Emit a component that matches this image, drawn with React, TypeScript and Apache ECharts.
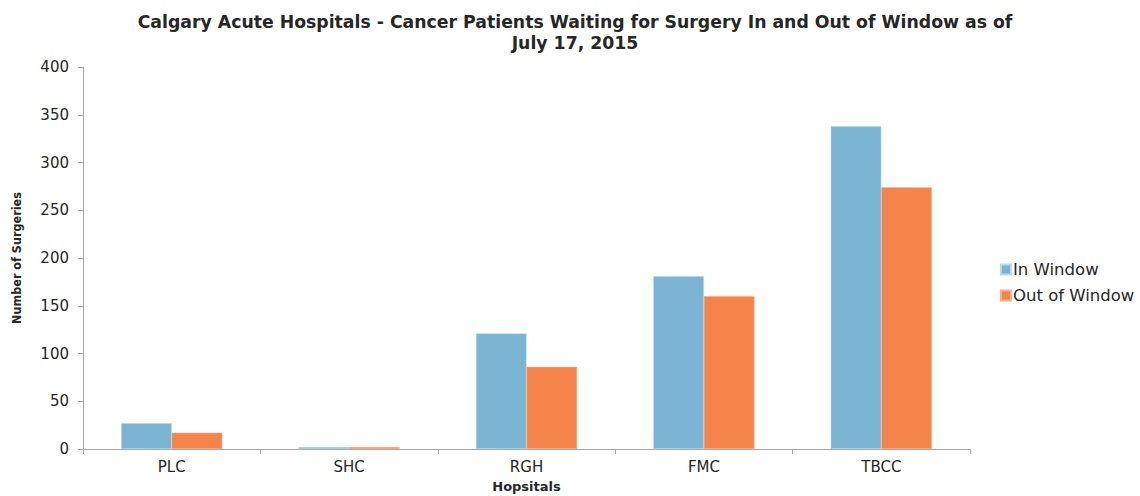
import React, { useEffect, useRef } from "react";
import * as echarts from "echarts";

const categories = ["PLC", "SHC", "RGH", "FMC", "TBCC"];
const inWindow = [27, 2, 121, 181, 338];
const outOfWindow = [17, 2, 86, 160, 274];
const seriesNames = ["In Window", "Out of Window"];

export default function App() {
  const ref = useRef<HTMLDivElement>(null);
  useEffect(() => {
    if (!ref.current) return;
    const chart = echarts.init(ref.current, undefined, { renderer: "svg" });
    const axisColor = "#A6A6A6";
    const textColor = "#262626";
    chart.setOption({
      animation: false,
      backgroundColor: "#ffffff",
      title: {
        text: "Calgary Acute Hospitals - Cancer Patients Waiting for Surgery In and Out of Window as of\nJuly 17, 2015",
        left: 570,
        textAlign: "center",
        top: 6,
        textStyle: {
          fontFamily: "DejaVu Sans",
          fontWeight: "bold",
          fontSize: 17.3,
          lineHeight: 21,
          color: textColor,
        },
      },
      legend: {
        orient: "vertical",
        left: 995,
        top: 256,
        itemWidth: 10,
        itemHeight: 10,
        itemGap: 9,
        icon: "rect",
        data: seriesNames,
        textStyle: {
          fontFamily: "DejaVu Sans",
          fontSize: 16.5,
          color: textColor,
          padding: [0, 0, 0, -3],
        },
      },
      grid: {
        left: 83,
        right: 170,
        top: 67,
        bottom: 47,
        containLabel: false,
        outerBoundsMode: "none",
      },
      xAxis: {
        type: "category",
        data: categories,
        name: "Hopsitals",
        nameLocation: "middle",
        nameGap: 31,
        nameTextStyle: {
          fontFamily: "DejaVu Sans",
          fontWeight: "bold",
          fontSize: 13,
          color: textColor,
        },
        axisLine: { lineStyle: { color: axisColor, width: 1 } },
        axisTick: { show: true, length: 5, lineStyle: { color: axisColor } },
        axisLabel: {
          fontFamily: "DejaVu Sans",
          fontSize: 15,
          color: textColor,
          margin: 10,
        },
      },
      yAxis: {
        type: "value",
        min: 0,
        max: 400,
        interval: 50,
        name: "Number of Surgeries",
        nameLocation: "middle",
        nameGap: 60,
        nameRotate: 90,
        nameTextStyle: {
          fontFamily: "DejaVu Sans Condensed, DejaVu Sans",
          fontWeight: "bold",
          fontSize: 12.5,
          color: textColor,
        },
        axisLine: { show: true, lineStyle: { color: axisColor, width: 1 } },
        axisTick: { show: true, length: 5, lineStyle: { color: axisColor } },
        splitLine: { show: false },
        axisLabel: {
          fontFamily: "DejaVu Sans",
          fontSize: 15,
          color: textColor,
          margin: 14,
        },
      },
      series: [
        {
          name: seriesNames[0],
          type: "bar",
          data: inWindow,
          barGap: "0%",
          barCategoryGap: "43%",
          itemStyle: { color: "#7AB4D2", borderColor: "#B9D9EA", borderWidth: 0.5 },
        },
        {
          name: seriesNames[1],
          type: "bar",
          data: outOfWindow,
          barGap: "0%",
          barCategoryGap: "43%",
          itemStyle: { color: "#F5844A", borderColor: "#F9B08A", borderWidth: 0.5 },
        },
      ],
    });
    return () => chart.dispose();
  }, []);
  return (
    <div
      ref={ref}
      style={{ position: "fixed", left: 0, top: 0, width: 1140, height: 496 }}
    />
  );
}
